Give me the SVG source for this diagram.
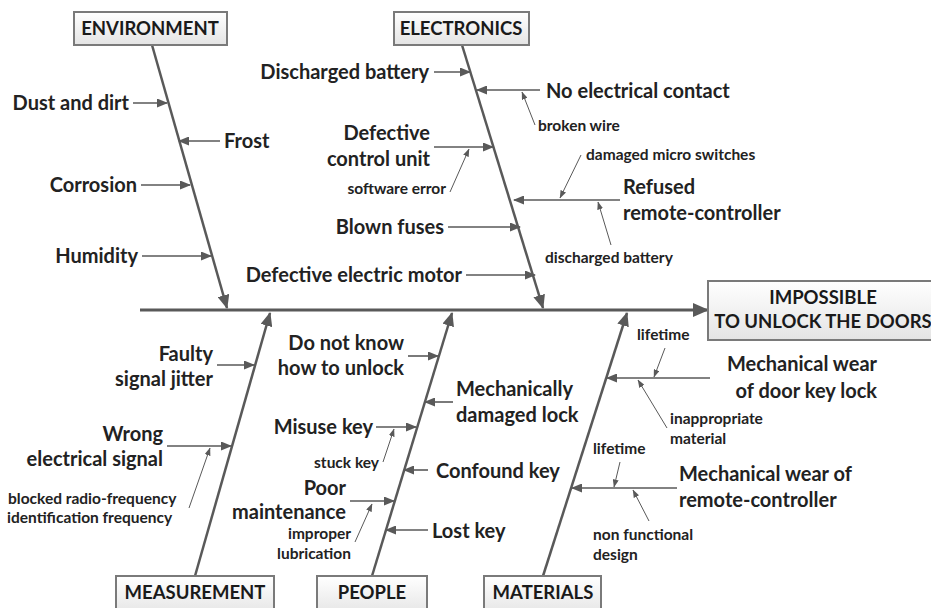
<svg xmlns="http://www.w3.org/2000/svg" width="931" height="608" viewBox="0 0 931 608">
<defs>
<linearGradient id="boxg" x1="0" y1="0" x2="0" y2="1"><stop offset="0" stop-color="#ffffff"/><stop offset="1" stop-color="#e4e4e4"/></linearGradient>
<marker id="mMain" markerUnits="userSpaceOnUse" markerWidth="16" markerHeight="14" refX="15" refY="7" orient="auto"><path d="M0,0 L16,7 L0,14 z" fill="#595959"/></marker>
<marker id="mSpine" markerUnits="userSpaceOnUse" markerWidth="14" markerHeight="12" refX="13" refY="6" orient="auto"><path d="M0,0 L14,6 L0,12 z" fill="#595959"/></marker>
<marker id="mCause" markerUnits="userSpaceOnUse" markerWidth="11" markerHeight="9" refX="10" refY="4.5" orient="auto"><path d="M0,0 L11,4.5 L0,9 z" fill="#595959"/></marker>
<marker id="mSub" markerUnits="userSpaceOnUse" markerWidth="8" markerHeight="6" refX="7.5" refY="3" orient="auto"><path d="M0,0 L8,3 L0,6 z" fill="#595959"/></marker>
</defs>
<style>
.box{fill:url(#boxg);stroke:#7a7a7a;stroke-width:2}
.bt{font-family:Lato,"Liberation Sans",sans-serif;font-weight:bold;font-size:18.5px;fill:#1a1a1a;text-anchor:middle}
.lb{font-family:Lato,"Liberation Sans",sans-serif;font-weight:bold;font-size:20px;fill:#222}
.sm{font-family:Lato,"Liberation Sans",sans-serif;font-weight:bold;font-size:15.5px;fill:#222}
.e{text-anchor:end}
.main{stroke:#595959;stroke-width:3;fill:none}
.spine{stroke:#595959;stroke-width:2.5;fill:none}
.cause{stroke:#595959;stroke-width:1.6;fill:none}
.sub{stroke:#595959;stroke-width:1;fill:none}
</style>

<g id="connectors">
<line class="main" x1="140" y1="310" x2="708" y2="310" marker-end="url(#mMain)"/>
<line class="spine" x1="152" y1="45" x2="227" y2="308" marker-end="url(#mSpine)"/>
<line class="spine" x1="462" y1="45" x2="543" y2="308" marker-end="url(#mSpine)"/>
<line class="spine" x1="195" y1="576" x2="270" y2="313" marker-end="url(#mSpine)"/>
<line class="spine" x1="372" y1="576" x2="452" y2="313" marker-end="url(#mSpine)"/>
<line class="spine" x1="543" y1="576" x2="627" y2="313" marker-end="url(#mSpine)"/>
<line class="cause" x1="133" y1="103" x2="167" y2="103" marker-end="url(#mCause)"/>
<line class="cause" x1="220" y1="141" x2="179" y2="141" marker-end="url(#mCause)"/>
<line class="cause" x1="141" y1="185" x2="190" y2="185" marker-end="url(#mCause)"/>
<line class="cause" x1="142" y1="256" x2="211" y2="256" marker-end="url(#mCause)"/>
<line class="cause" x1="434" y1="72" x2="470" y2="72" marker-end="url(#mCause)"/>
<line class="cause" x1="540" y1="90" x2="477" y2="90" marker-end="url(#mCause)"/>
<line class="cause" x1="434" y1="147" x2="493" y2="147" marker-end="url(#mCause)"/>
<line class="cause" x1="620" y1="200" x2="514" y2="200" marker-end="url(#mCause)"/>
<line class="cause" x1="448" y1="227" x2="520" y2="227" marker-end="url(#mCause)"/>
<line class="cause" x1="466" y1="275" x2="535" y2="275" marker-end="url(#mCause)"/>
<line class="sub" x1="535" y1="125" x2="522" y2="92" marker-end="url(#mSub)"/>
<line class="sub" x1="450" y1="192" x2="469" y2="149" marker-end="url(#mSub)"/>
<line class="sub" x1="581" y1="155" x2="560" y2="198" marker-end="url(#mSub)"/>
<line class="sub" x1="611" y1="245" x2="598" y2="202" marker-end="url(#mSub)"/>
<line class="cause" x1="217" y1="365" x2="254" y2="365" marker-end="url(#mCause)"/>
<line class="cause" x1="167" y1="446" x2="231" y2="446" marker-end="url(#mCause)"/>
<line class="sub" x1="189" y1="508" x2="210" y2="448" marker-end="url(#mSub)"/>
<line class="cause" x1="408" y1="356" x2="438" y2="356" marker-end="url(#mCause)"/>
<line class="cause" x1="453" y1="402" x2="425" y2="402" marker-end="url(#mCause)"/>
<line class="cause" x1="376" y1="427" x2="416" y2="427" marker-end="url(#mCause)"/>
<line class="cause" x1="428" y1="470" x2="404" y2="470" marker-end="url(#mCause)"/>
<line class="cause" x1="350" y1="501" x2="394" y2="501" marker-end="url(#mCause)"/>
<line class="cause" x1="428" y1="530" x2="386" y2="530" marker-end="url(#mCause)"/>
<line class="sub" x1="383" y1="462" x2="394" y2="429" marker-end="url(#mSub)"/>
<line class="sub" x1="355" y1="542" x2="372" y2="504" marker-end="url(#mSub)"/>
<line class="cause" x1="710" y1="378" x2="607" y2="378" marker-end="url(#mCause)"/>
<line class="cause" x1="677" y1="488" x2="572" y2="488" marker-end="url(#mCause)"/>
<line class="sub" x1="665" y1="348" x2="654" y2="377" marker-end="url(#mSub)"/>
<line class="sub" x1="667" y1="428" x2="638" y2="380" marker-end="url(#mSub)"/>
<line class="sub" x1="620" y1="462" x2="614" y2="487" marker-end="url(#mSub)"/>
<line class="sub" x1="649" y1="521" x2="633" y2="490" marker-end="url(#mSub)"/>
</g>

<g id="effect"><rect class="box" x="708" y="281" width="232" height="59"/><text class="bt" x="823" y="304">IMPOSSIBLE</text><text class="bt" x="823" y="328">TO UNLOCK THE DOORS</text></g>
<g id="environment"><rect class="box" x="74" y="12" width="153" height="33"/><text class="bt" x="150" y="35">ENVIRONMENT</text></g>
<g id="electronics"><rect class="box" x="394" y="12" width="135" height="33"/><text class="bt" x="461" y="35">ELECTRONICS</text></g>
<g id="measurement"><rect class="box" x="116" y="576" width="158" height="40"/><text class="bt" x="195" y="599">MEASUREMENT</text></g>
<g id="people"><rect class="box" x="317" y="576" width="110" height="40"/><text class="bt" x="372" y="599">PEOPLE</text></g>
<g id="materials"><rect class="box" x="484" y="576" width="117" height="40"/><text class="bt" x="543" y="599">MATERIALS</text></g>

<g id="env-causes">
<text class="lb e" x="129" y="110">Dust and dirt</text>
<text class="lb" x="224" y="148">Frost</text>
<text class="lb e" x="137" y="192">Corrosion</text>
<text class="lb e" x="138" y="263">Humidity</text>
</g>
<g id="elec-causes">
<text class="lb e" x="429" y="79">Discharged battery</text>
<text class="lb" x="546" y="98">No electrical contact</text>
<text class="sm" x="538" y="131">broken wire</text>
<text class="lb e" x="430" y="140">Defective</text>
<text class="lb e" x="430" y="166">control unit</text>
<text class="sm e" x="446" y="194">software error</text>
<text class="sm" x="586" y="160">damaged micro switches</text>
<text class="lb" x="623" y="194">Refused</text>
<text class="lb" x="623" y="220">remote-controller</text>
<text class="sm" x="545" y="263">discharged battery</text>
<text class="lb e" x="444" y="234">Blown fuses</text>
<text class="lb e" x="462" y="282">Defective electric motor</text>
</g>
<g id="meas-causes">
<text class="lb e" x="213" y="361">Faulty</text>
<text class="lb e" x="213" y="386">signal jitter</text>
<text class="lb e" x="163" y="441">Wrong</text>
<text class="lb e" x="163" y="466">electrical signal</text>
<text class="sm" x="8" y="504">blocked radio-frequency</text>
<text class="sm" x="7" y="523">identification frequency</text>
</g>
<g id="people-causes">
<text class="lb e" x="404" y="350">Do not know</text>
<text class="lb e" x="404" y="375">how to unlock</text>
<text class="lb" x="456" y="396">Mechanically</text>
<text class="lb" x="456" y="422">damaged lock</text>
<text class="lb e" x="373" y="434">Misuse key</text>
<text class="sm e" x="379" y="468">stuck key</text>
<text class="lb" x="436" y="478">Confound key</text>
<text class="lb e" x="346" y="495">Poor</text>
<text class="lb e" x="346" y="519">maintenance</text>
<text class="sm e" x="351" y="539">improper</text>
<text class="sm e" x="351" y="559">lubrication</text>
<text class="lb" x="432" y="538">Lost key</text>
</g>
<g id="mat-causes">
<text class="sm" x="637" y="340">lifetime</text>
<text class="lb e" x="877" y="371">Mechanical wear</text>
<text class="lb e" x="877" y="398">of door key lock</text>
<text class="sm" x="670" y="424">inappropriate</text>
<text class="sm" x="670" y="444">material</text>
<text class="sm" x="593" y="454">lifetime</text>
<text class="lb" x="679" y="481">Mechanical wear of</text>
<text class="lb" x="679" y="507">remote-controller</text>
<text class="sm" x="593" y="540">non functional</text>
<text class="sm" x="593" y="560">design</text>
</g>
</svg>
